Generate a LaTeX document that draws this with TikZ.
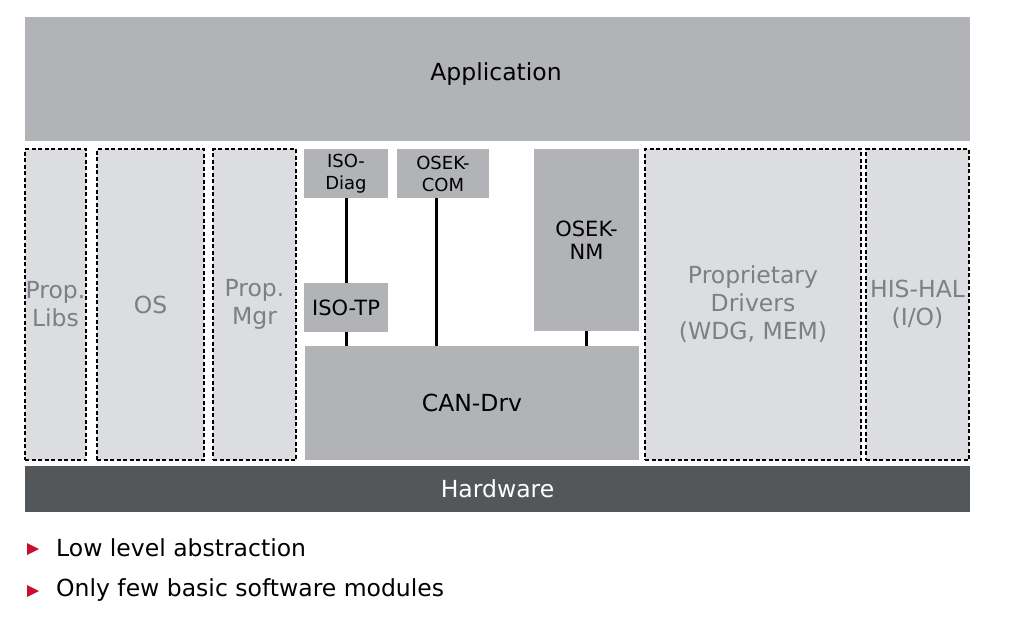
\documentclass[tikz,border=0pt]{standalone}
\usepackage{fontspec}
\setmainfont{DejaVu Sans}
\definecolor{appgray}{HTML}{B1B3B7}
\definecolor{lightbox}{HTML}{DCDDE1}
\definecolor{labelgray}{HTML}{7C7F83}
\definecolor{hwgray}{HTML}{54575A}
\definecolor{bulletred}{HTML}{C8102E}
\newcommand{\bigfont}{\fontsize{23.5}{28}\selectfont}
\newcommand{\midfont}{\fontsize{21}{23}\selectfont}
\newcommand{\smallfont}{\fontsize{18}{22}\selectfont}
\begin{document}
\begin{tikzpicture}[x=1pt,y=-1pt,
  darkbox/.style={fill=appgray, draw=none, inner sep=0pt, align=center, text=black},
  dashbox/.style={fill=lightbox, draw=black, dash pattern=on 4pt off 2.5pt, line width=1.2pt,
    inner sep=0pt, align=center, text=labelgray, font=\bigfont},
  hwbox/.style={fill=hwgray, draw=none, inner sep=0pt, text=white, font=\bigfont},
  link/.style={line width=3pt},
  bullettext/.style={anchor=west, inner sep=0pt, text=black, font=\bigfont}]
\useasboundingbox (0,0) rectangle (1019,618);
\fill[white] (0,0) rectangle (1019,618);

% Application
\node[darkbox, font=\bigfont, minimum width=945pt, minimum height=124pt] (app) at (497.5,79) {};
\node[inner sep=0pt, font=\bigfont, text=black] (apptext) at (496,74) {Application};

% Dashed boxes
\node[dashbox, minimum width=61pt, minimum height=311pt] (libs) at (55.5,304.5) {Prop.\\Libs};
\node[dashbox, minimum width=107pt, minimum height=311pt] (os) at (150.5,304.5) {OS};
\node[dashbox, minimum width=83pt, minimum height=311pt] (mgr) at (254.5,304.5) {Prop.\\Mgr};
\node[dashbox, minimum width=216pt, minimum height=311pt] (drv) at (753,304.5) {Proprietary\\Drivers\\(WDG, MEM)};
\node[dashbox, minimum width=103pt, minimum height=311pt] (hal) at (917.5,304.5) {HIS-HAL\\(I/O)};

% Communication stack
\node[darkbox, font=\smallfont, minimum width=84pt, minimum height=49pt] (isodiag) at (346,173.5) {ISO-\\Diag};
\node[darkbox, font=\smallfont, minimum width=92pt, minimum height=49pt] (osekcom) at (443,173.5) {OSEK-\\COM};
\node[darkbox, font=\midfont, minimum width=84pt, minimum height=49pt] (isotp) at (346,307.5) {ISO-TP};
\node[darkbox, font=\midfont, minimum width=105pt, minimum height=182pt] (oseknm) at (586.5,240) {OSEK-\\NM};
\node[darkbox, font=\bigfont, minimum width=334pt, minimum height=114pt] (can) at (472,403) {CAN-Drv};

% Hardware
\node[hwbox, minimum width=945pt, minimum height=46pt] (hw) at (497.5,489) {Hardware};

% Connectors
\draw[link] (isodiag.south) -- (isotp.north);
\draw[link] (isotp.south) -- (isotp.south |- can.north);
\draw[link] ([xshift=-7pt]osekcom.south) -- ([xshift=-7pt]osekcom.south |- can.north);
\draw[link] (oseknm.south) -- (oseknm.south |- can.north);

% Bullets
\fill[bulletred] (27,543) -- (27,555) -- (39,549) -- cycle;
\node[bullettext] (b1) at (56,548) {Low level abstraction};
\fill[bulletred] (27,585) -- (27,597) -- (39,591) -- cycle;
\node[bullettext] (b2) at (56,590) {Only few basic software modules};
\end{tikzpicture}
\end{document}
